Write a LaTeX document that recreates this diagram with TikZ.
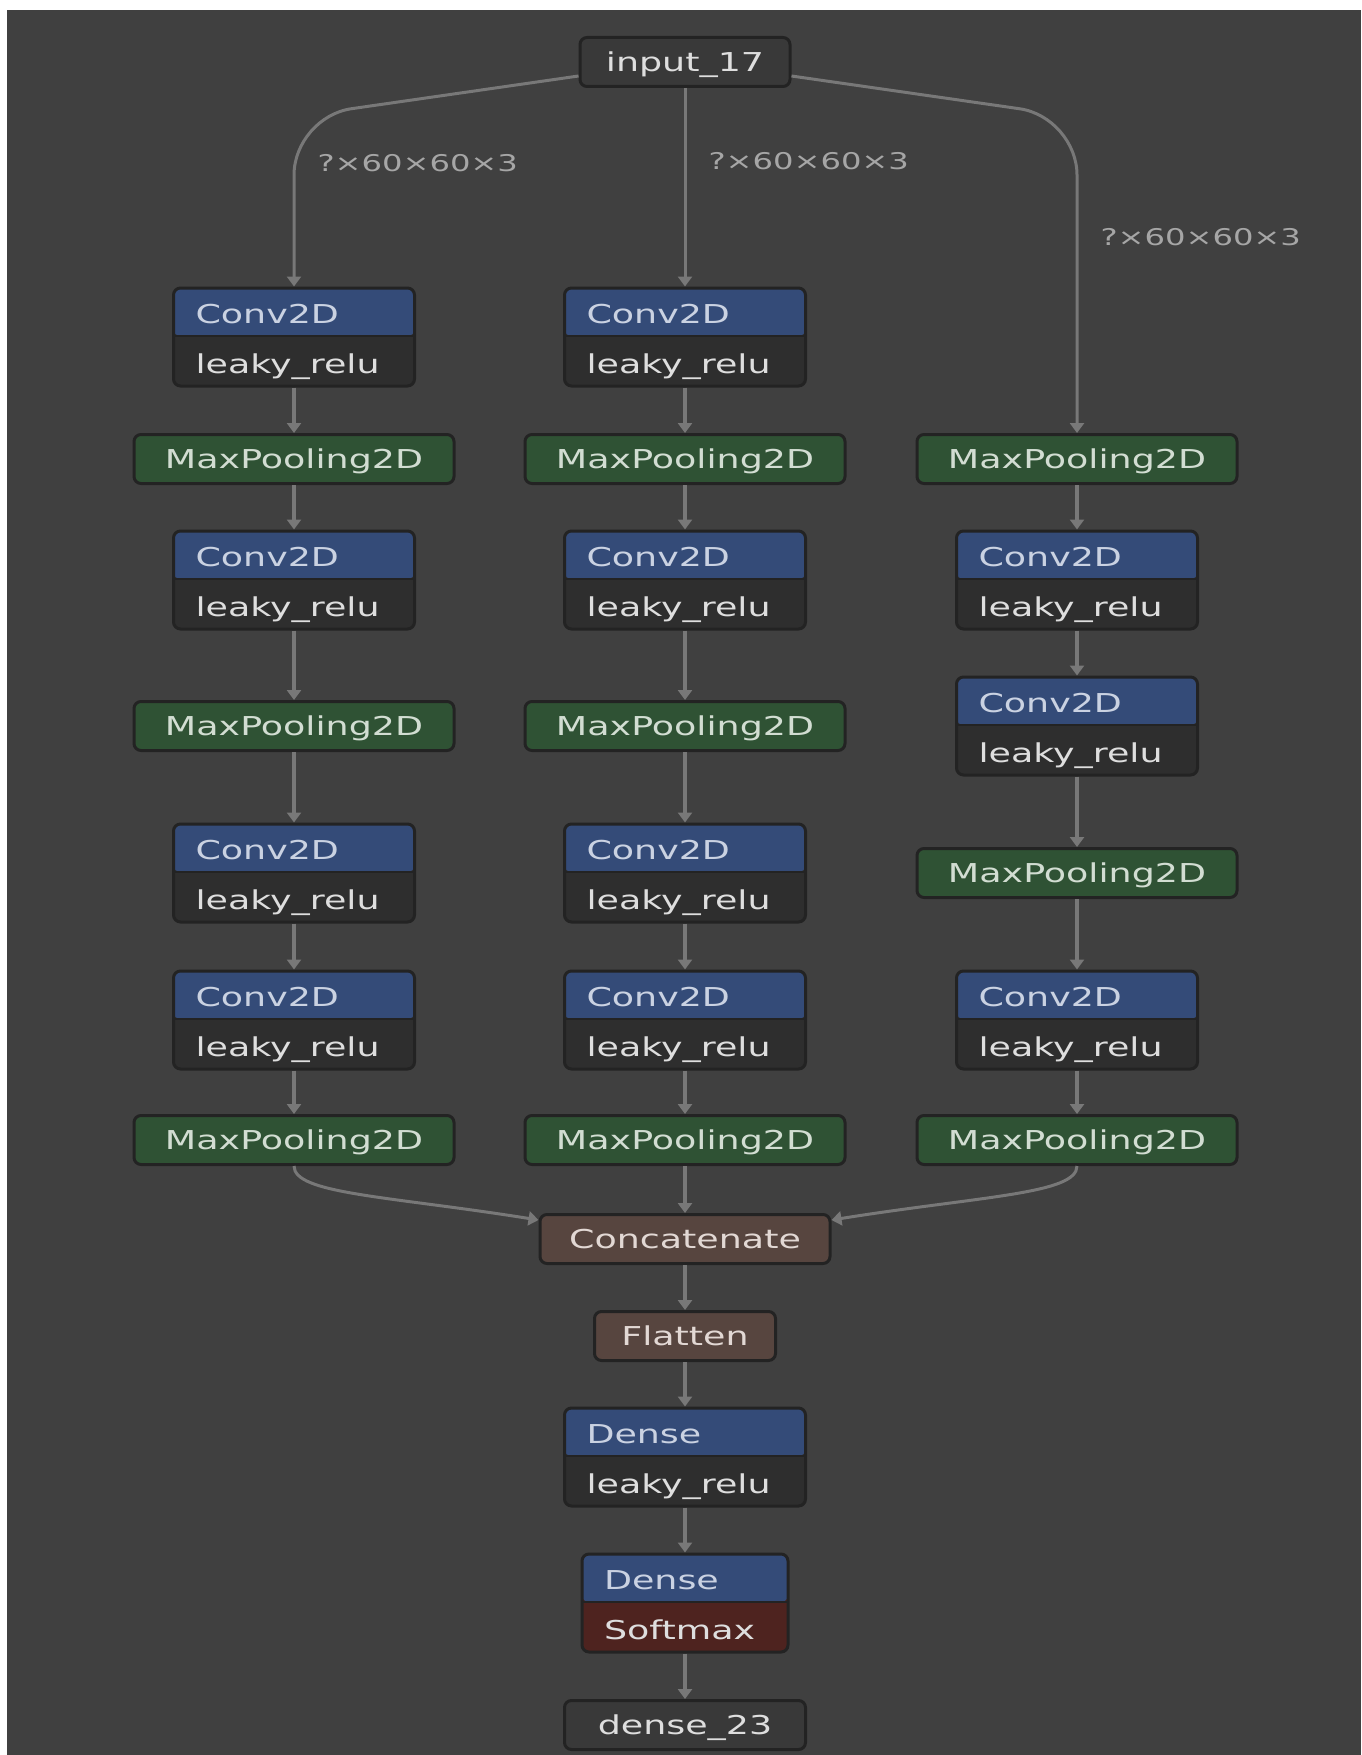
\documentclass[tikz,border=0pt]{standalone}
\usepackage{fontspec}
\newfontfamily\netfont[FakeStretch=1.4]{DejaVu Sans}
\usetikzlibrary{arrows.meta}

\definecolor{canvas}{HTML}{404040}
\definecolor{nodeline}{HTML}{232323}
\definecolor{edgecol}{HTML}{787878}
\definecolor{lblcol}{HTML}{A6A6A6}
\definecolor{hdrcol}{HTML}{344B78}
\definecolor{hdrtxt}{HTML}{CAD2E2}
\definecolor{bodycol}{HTML}{2E2E2E}
\definecolor{bodytxt}{HTML}{DEDEDE}
\definecolor{poolcol}{HTML}{2F5234}
\definecolor{pooltxt}{HTML}{D2DDD2}
\definecolor{mergecol}{HTML}{57453F}
\definecolor{mergetxt}{HTML}{E2D8D4}
\definecolor{softcol}{HTML}{4E231F}
\definecolor{iocol}{HTML}{393939}

\tikzset{
  box/.style={draw=nodeline, line width=3pt, rounded corners=7pt, inner sep=0pt,
    font=\netfont\fontsize{26}{50}\selectfont},
  oneline/.style={box, minimum height=49pt, text height=19pt, text depth=0pt},
  io/.style={oneline, fill=iocol, text=bodytxt, minimum width=#1},
  pool/.style={oneline, fill=poolcol, text=pooltxt, minimum width=320pt},
  merge/.style={oneline, fill=mergecol, text=mergetxt, minimum width=#1},
  layer/.style 2 args={box, minimum height=98pt, inner xsep=22pt, text width=#1,
    align=left, text height=35pt, text depth=63pt, text=bodytxt,
    path picture={
      \fill[#2] (path picture bounding box.south west) rectangle (path picture bounding box.north east);
      \fill[hdrcol] ([yshift=1pt]path picture bounding box.west) rectangle (path picture bounding box.north east);
      \draw[nodeline, line width=2pt] ([yshift=1pt]path picture bounding box.west) -- ([yshift=1pt]path picture bounding box.east);
    }},
  edge/.style={draw=edgecol, line width=4pt, -{Triangle[length=10pt,width=14pt]}},
  long edge/.style={line width=3pt},
  lbl/.style={font=\netfont\fontsize{23}{28}\selectfont, text=lblcol, inner sep=0pt,
    anchor=west, xshift=22pt}
}

\begin{document}
\begin{tikzpicture}[x=1pt, y=-1pt]
  \useasboundingbox (0,0) rectangle (1361,1755);
  \fill[white] (0,0) rectangle (1361,1755);
  \fill[canvas] (7,10) rectangle (1361,1755);

  \node[io=210pt] (input) at (685,62) {input\_17};

  % left branch
  \node[layer={197pt}{bodycol}] (a1) at (294,337) {\textcolor{hdrtxt}{Conv2D}\\leaky\_relu};
  \node[pool] (a2) at (294,459) {MaxPooling2D};
  \node[layer={197pt}{bodycol}] (a3) at (294,580) {\textcolor{hdrtxt}{Conv2D}\\leaky\_relu};
  \node[pool] (a4) at (294,726) {MaxPooling2D};
  \node[layer={197pt}{bodycol}] (a5) at (294,873) {\textcolor{hdrtxt}{Conv2D}\\leaky\_relu};
  \node[layer={197pt}{bodycol}] (a6) at (294,1020) {\textcolor{hdrtxt}{Conv2D}\\leaky\_relu};
  \node[pool] (a7) at (294,1140) {MaxPooling2D};

  % middle branch
  \node[layer={197pt}{bodycol}] (b1) at (685,337) {\textcolor{hdrtxt}{Conv2D}\\leaky\_relu};
  \node[pool] (b2) at (685,459) {MaxPooling2D};
  \node[layer={197pt}{bodycol}] (b3) at (685,580) {\textcolor{hdrtxt}{Conv2D}\\leaky\_relu};
  \node[pool] (b4) at (685,726) {MaxPooling2D};
  \node[layer={197pt}{bodycol}] (b5) at (685,873) {\textcolor{hdrtxt}{Conv2D}\\leaky\_relu};
  \node[layer={197pt}{bodycol}] (b6) at (685,1020) {\textcolor{hdrtxt}{Conv2D}\\leaky\_relu};
  \node[pool] (b7) at (685,1140) {MaxPooling2D};

  % right branch
  \node[pool] (c1) at (1077,459) {MaxPooling2D};
  \node[layer={197pt}{bodycol}] (c2) at (1077,580) {\textcolor{hdrtxt}{Conv2D}\\leaky\_relu};
  \node[layer={197pt}{bodycol}] (c3) at (1077,726) {\textcolor{hdrtxt}{Conv2D}\\leaky\_relu};
  \node[pool] (c4) at (1077,873) {MaxPooling2D};
  \node[layer={197pt}{bodycol}] (c5) at (1077,1020) {\textcolor{hdrtxt}{Conv2D}\\leaky\_relu};
  \node[pool] (c6) at (1077,1140) {MaxPooling2D};

  \node[merge=290pt] (concat) at (685,1239) {Concatenate};
  \node[merge=181pt] (flatten) at (685,1336) {Flatten};
  \node[layer={197pt}{bodycol}] (dense1) at (685,1457) {\textcolor{hdrtxt}{Dense}\\leaky\_relu};
  \node[layer={162pt}{softcol}] (dense2) at (685,1603) {\textcolor{hdrtxt}{Dense}\\Softmax};
  \node[io=241pt] (output) at (685,1725) {dense\_23};

  \draw[edge, long edge, rounded corners=58pt] ([yshift=-14pt]input.west) -- (a1.north |- 0,117)
    -- node[lbl, pos=0.27] (shapea) {?×60×60×3} (a1.north);
  \draw[edge, long edge] (input) -- node[lbl, pos=0.37] (shapeb) {?×60×60×3} (b1);
  \draw[edge, long edge, rounded corners=58pt] ([yshift=-14pt]input.east) -- (c1.north |- 0,117)
    -- node[lbl, pos=0.38] (shapec) {?×60×60×3} (c1.north);

  \draw[edge] (a1) -- (a2);
  \draw[edge] (a2) -- (a3);
  \draw[edge] (a3) -- (a4);
  \draw[edge] (a4) -- (a5);
  \draw[edge] (a5) -- (a6);
  \draw[edge] (a6) -- (a7);

  \draw[edge] (b1) -- (b2);
  \draw[edge] (b2) -- (b3);
  \draw[edge] (b3) -- (b4);
  \draw[edge] (b4) -- (b5);
  \draw[edge] (b5) -- (b6);
  \draw[edge] (b6) -- (b7);

  \draw[edge] (c1) -- (c2);
  \draw[edge] (c2) -- (c3);
  \draw[edge] (c3) -- (c4);
  \draw[edge] (c4) -- (c5);
  \draw[edge] (c5) -- (c6);

  \draw[edge, long edge] (a7.south) .. controls +(0,28) and +(-150,-24) .. ([yshift=19pt]concat.west);
  \draw[edge] (b7) -- (concat);
  \draw[edge, long edge] (c6.south) .. controls +(0,28) and +(150,-24) .. ([yshift=19pt]concat.east);

  \draw[edge] (concat) -- (flatten);
  \draw[edge] (flatten) -- (dense1);
  \draw[edge] (dense1) -- (dense2);
  \draw[edge] (dense2) -- (output);
\end{tikzpicture}
\end{document}
